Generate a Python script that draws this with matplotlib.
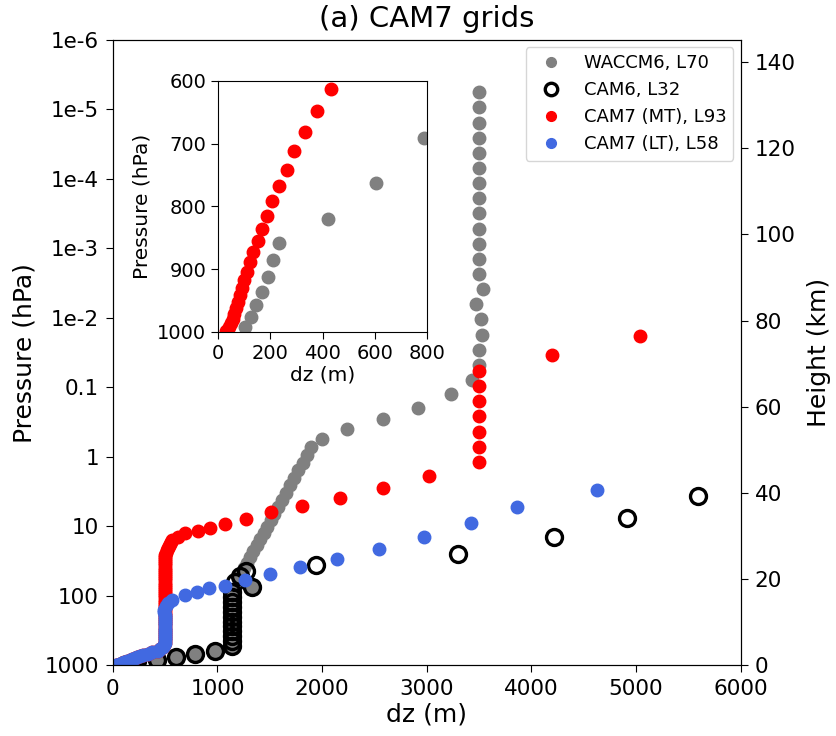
import numpy as np
from matplotlib import pyplot as plt

# WACCM6, L70  (pressure in hPa, layer thickness in m)
p_waccm = [992, 976, 957, 936, 912, 886, 859, 820, 763, 691, 610, 525, 446, 379, 322,
           274, 233, 198, 168, 143, 122, 103, 88, 74,
           57.4, 48.0, 40.1, 33.4, 27.6, 22.8, 18.7, 15.3, 12.4, 10.1, 8.11, 6.51, 5.20,
           4.13, 3.27, 2.57, 2.01, 1.56, 1.21, 0.93, 0.71,
           0.546, 0.402, 0.287, 0.195, 0.125,
           0.078, 0.047, 0.0286, 0.0174, 0.01045, 6.35e-3, 3.86e-3, 2.33e-3, 1.416e-3,
           8.53e-4, 5.19e-4, 3.12e-4, 1.897e-4, 1.153e-4, 6.95e-5, 4.19e-5, 2.546e-5,
           1.549e-5, 9.30e-6, 5.66e-6]
dz_waccm = [102, 125, 146, 169, 192, 210, 232, 419, 605, 787, 974, 1140, 1140, 1140, 1140,
            1140, 1140, 1140, 1140, 1140, 1140, 1140, 1145, 1325,
            1196, 1224, 1253, 1283, 1313, 1344, 1376, 1408, 1441, 1475, 1509, 1544, 1580,
            1617, 1655, 1693, 1732, 1772, 1813, 1855, 1898,
            1997, 2238, 2577, 2916, 3236,
            3433, 3497, 3497, 3528, 3519, 3471, 3538, 3497, 3497,
            3497, 3497, 3497, 3497, 3497, 3497, 3497, 3497,
            3497, 3497, 3497]

# CAM6, L32
p_cam6 = [992, 976, 957, 936, 913, 887, 860, 821, 763, 691, 610, 525, 446, 379, 322, 274,
          233, 198, 168, 143, 122, 103, 88, 74, 62, 52, 43, 36, 24.6, 14.4, 7.6, 3.6]
dz_cam6 = [102, 125, 146, 169, 192, 210, 232, 419, 605, 787, 974, 1140, 1140, 1140, 1140, 1140,
           1140, 1140, 1140, 1140, 1140, 1140, 1140, 1325, 1166, 1213, 1277, 1946, 3299, 4213, 4914, 5589]

# CAM7 (MT), L93
p_mt = [997.9, 992.6, 986.2, 978.9, 970.9, 962.0, 952.3, 941.6, 929.9, 917.5, 904, 889, 872,
        855, 836, 815, 792, 767, 742, 712, 682, 648, 613,
        574.5, 537, 502, 468, 435, 405, 378, 352, 328, 305.5, 284.5, 265, 247, 230, 214, 199,
        186, 173, 161, 150, 140, 130, 121, 113, 105, 98.2, 91.4, 85.1, 79.3, 73.8, 68.8,
        64.1, 59.7, 55.6, 51.8, 48.2, 44.9, 41.9, 39.0, 36.3, 33.9, 31.5, 29.4,
        27.3, 25.4, 23.7, 22.1, 20.5, 19.1, 17.8, 16.7, 15.6, 14.0,
        12.5, 11.5, 10.6, 9.2, 7.87, 6.25, 5.07, 3.83, 2.75, 1.875,
        1.169, 0.711, 0.430, 0.2614, 0.159, 0.0968, 0.0585, 0.034, 0.018]
dz_mt = [30, 42, 50, 55, 61, 68, 75, 83, 91, 100, 110, 123, 135,
         151, 169, 187, 207, 233, 263, 291, 333, 378, 432,
         455, 475, 488, 495, 497, 497, 497, 497, 497, 497, 497, 497, 497, 497, 497, 497,
         497, 497, 497, 497, 497, 497, 497, 497, 497, 497, 497, 497, 497, 497, 497,
         497, 497, 497, 497, 497, 497, 497, 497, 497, 497, 497, 497,
         500, 503, 508, 515, 525, 537, 548, 556, 561, 620,
         688, 815, 927, 1070, 1268, 1510, 1812, 2175, 2577, 3022,
         3500, 3500, 3500, 3500, 3500, 3500, 3500, 4197, 5035]

# CAM7 (LT), L58
p_lt = [997.9, 992.6, 986.2, 978.9, 970.9, 962.0, 952.3, 941.6, 929.9, 917.5, 904, 889, 872,
        855, 836, 815, 792, 767, 742, 712, 682, 648, 613,
        574.5, 537, 502, 468, 435, 405, 378, 352, 328, 305.5, 284.5, 265, 247, 230, 214,
        199, 185, 171, 159, 141, 126, 114, 96.7, 86.9, 77.5,
        71.1, 58.8, 48.8, 38.6, 29.3, 21.1, 14.0, 8.98, 5.28, 2.99]
dz_lt = [30, 42, 50, 55, 61, 68, 75, 83, 91, 100, 110, 123, 135,
         151, 169, 187, 207, 233, 263, 291, 333, 378, 432,
         455, 475, 488, 495, 497, 497, 497, 497, 497, 497, 497, 497, 497, 497, 497,
         497, 497, 490, 485, 505, 530, 561, 688, 800, 920,
         1070, 1261, 1500, 1787, 2143, 2544, 2971, 3420, 3860, 4627]

p_ticks = [1000, 100, 10, 1, 0.1, 1e-2, 1e-3, 1e-4, 1e-5, 1e-6]
p_labels = ['1000', '100', '10', '1', '0.1', '1e-2', '1e-3', '1e-4', '1e-5', '1e-6']

H = 7.0  # scale height (km)
ztop = H * np.log(1000 / 1e-6)

fig = plt.figure(figsize=(8.36, 7.36), dpi=100)
ax = fig.add_axes([0.135, 0.0958, 0.751, 0.8499])

ms = 9
ax.plot(dz_waccm, p_waccm, 'o', color='grey', ms=ms, label='WACCM6, L70')
ax.plot(dz_cam6, p_cam6, 'o', mfc='none', mec='k', mew=2.4, ms=11.5, label='CAM6, L32')
ax.plot(dz_mt, p_mt, 'o', color='red', ms=ms, label='CAM7 (MT), L93')
ax.plot(dz_lt, p_lt, 'o', color='royalblue', ms=ms, label='CAM7 (LT), L58')

ax.set_yscale('log')
ax.set_ylim(1000, 1e-6)
ax.set_yticks(p_ticks)
ax.set_yticklabels(p_labels)
ax.minorticks_off()
ax.set_xlim(0, 6000)
ax.tick_params(labelsize=15.5, length=5, pad=5)
ax.set_xlabel('dz (m)', fontsize=18, labelpad=2)
ax.set_ylabel('Pressure (hPa)', fontsize=18, labelpad=6)
ax.set_title('(a) CAM7 grids', fontsize=21, pad=9)
ax.legend(loc='upper right', fontsize=13, markerscale=0.78, handletextpad=0.8,
          borderaxespad=0.4)

ax2 = ax.twinx()
ax2.set_ylim(0, ztop)
ax2.set_yticks(np.arange(0, 141, 20))
ax2.tick_params(labelsize=15.5, length=5, pad=5)
ax2.set_ylabel('Height (km)', fontsize=18, labelpad=8)

# inset zoom on the lower troposphere
axi = fig.add_axes([0.261, 0.549, 0.250, 0.341])
axi.plot(dz_waccm, p_waccm, 'o', color='grey', ms=ms)
axi.plot(dz_mt, p_mt, 'o', color='red', ms=ms)
axi.set_xlim(0, 800)
axi.set_ylim(1000, 600)
axi.set_xticks([0, 200, 400, 600, 800])
axi.set_yticks([600, 700, 800, 900, 1000])
axi.tick_params(labelsize=14, length=5)
axi.set_xlabel('dz (m)', fontsize=14.5, labelpad=2)
axi.set_ylabel('Pressure (hPa)', fontsize=14.5)

plt.savefig('out.png')
